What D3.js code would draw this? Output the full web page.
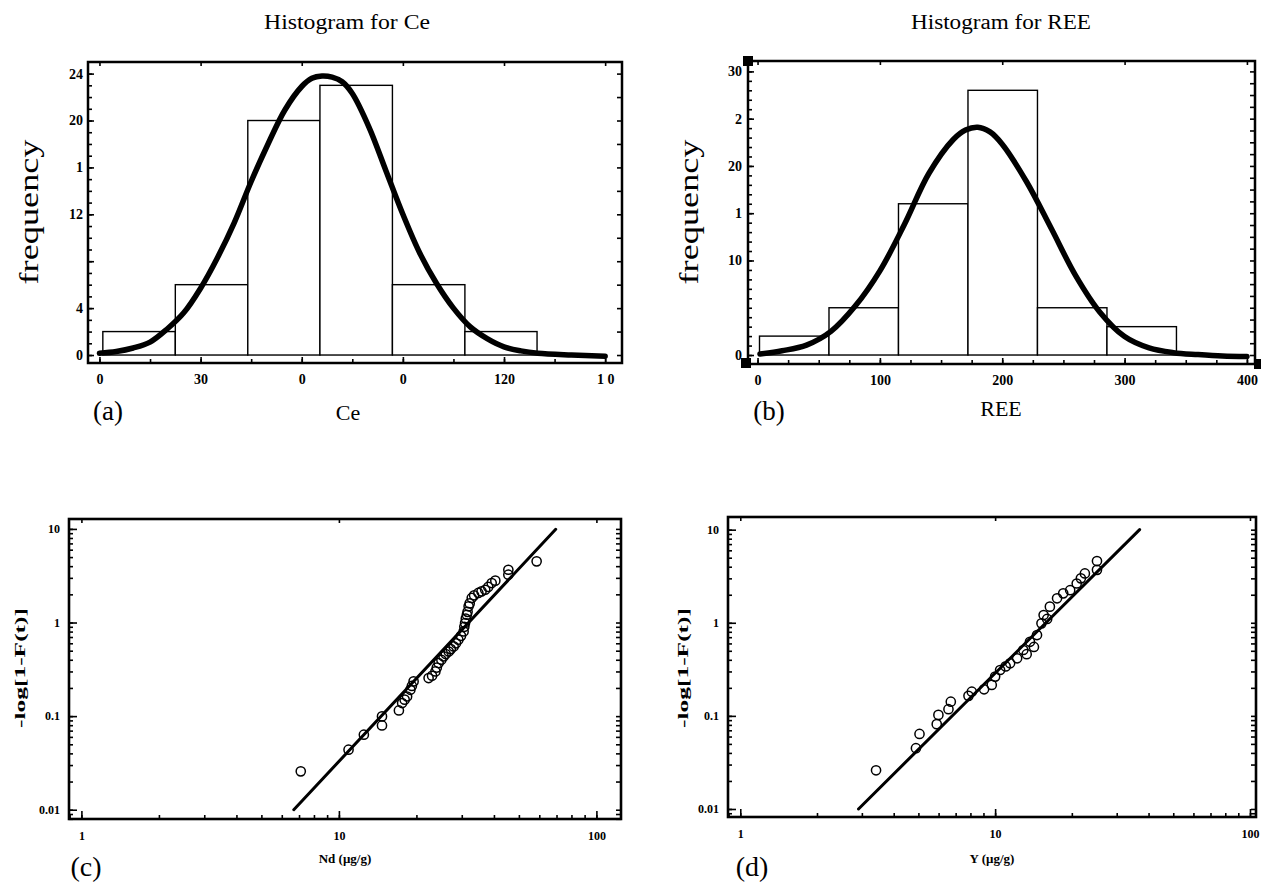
<!DOCTYPE html>
<html><head><meta charset="utf-8">
<script src="https://cdn.jsdelivr.net/npm/d3@7"></script>
<style>
body{margin:0;background:#fff;}
svg{display:block;}
text{font-family:"Liberation Serif","Times New Roman",serif;fill:#000;}
</style></head><body>
<svg id="chart" width="1261" height="889"></svg>
<script>
// ---------- DATA ----------
// (a) Histogram for Ce
const ceBinEdges = [1.0, 22.5, 44.0, 65.4, 86.9, 108.4, 129.8];
const ceCounts = [2, 6, 20, 23, 6, 2];
const ceCurveX = [0, 5, 10, 15, 20, 25, 30, 35, 40, 45, 50, 55, 60, 63, 66, 69, 72, 75, 80, 85, 90, 95, 100, 105, 110, 115, 120, 125, 130, 140, 150];
const ceCurveY = [0.15, 0.3, 0.6, 1.1, 2.2, 3.6, 5.7, 8.3, 11.3, 14.8, 18.0, 20.9, 22.9, 23.6, 23.8, 23.7, 23.3, 22.3, 19.4, 15.7, 12.0, 8.7, 6.1, 4.0, 2.4, 1.4, 0.7, 0.35, 0.15, 0.0, -0.1];
const ceXTicks = [0, 30, 60, 90, 120, 150];
const ceXTickLabels = ["0", "30", "0", "0", "120", "1 0"];
const ceYTicks = [0, 4, 8, 12, 16, 20, 24];
const ceYTickLabels = ["0", "4", "", "12", "1", "20", "24"];

// (b) Histogram for REE
const reeBinEdges = [1.6, 58.4, 115.2, 172.0, 228.8, 285.6, 342.4];
const reeCounts = [2, 5, 16, 28, 5, 3];
const reeCurveX = [2, 20, 40, 60, 80, 100, 120, 140, 160, 170, 180, 190, 200, 220, 240, 260, 280, 300, 320, 340, 360, 380, 400];
const reeCurveY = [0.1, 0.45, 1.05, 2.5, 5.2, 8.9, 13.8, 19.2, 22.8, 23.8, 24.1, 23.6, 22.3, 18.3, 13.4, 8.4, 4.5, 1.95, 0.75, 0.25, 0.05, -0.1, -0.15];
const reeXTicks = [0, 100, 200, 300, 400];
const reeXTickLabels = ["0", "100", "200", "300", "400"];
const reeYTicks = [0, 10, 15, 20, 25, 30];
const reeYTickLabels = ["0", "10", "1", "20", "2", "30"];

// (c) Weibull plot for Nd
const ndX = [7.11, 10.9, 12.5, 14.7, 14.7, 17.1, 17.6, 18.0, 18.4, 18.95, 19.2, 19.5, 22.3, 23.0, 23.7, 24.0, 24.4, 25.0, 25.5, 26.0, 26.7, 27.2, 27.9, 28.5, 29.1, 29.8, 30.5, 30.7, 30.9, 31.1, 31.4, 31.6, 31.9, 32.2, 32.8, 33.5, 34.8, 35.8, 37.0, 38.0, 39.2, 40.5, 45.5, 45.5, 58.6];
const ndY = [0.0257, 0.0438, 0.0633, 0.0795, 0.0993, 0.115, 0.138, 0.15, 0.162, 0.191, 0.21, 0.235, 0.255, 0.27, 0.30, 0.33, 0.369, 0.40, 0.434, 0.46, 0.49, 0.52, 0.556, 0.60, 0.655, 0.72, 0.803, 0.9, 0.988, 1.1, 1.21, 1.3, 1.49, 1.6, 1.83, 1.95, 2.07, 2.15, 2.24, 2.4, 2.64, 2.8, 3.24, 3.66, 4.5];
const ndLineX = [6.68, 69.5];
const ndLineY = [0.01, 9.9];

// (d) Weibull plot for Y
const yX = [3.41, 4.89, 5.05, 5.9, 5.99, 6.56, 6.7, 7.86, 8.1, 9.05, 9.7, 10.0, 10.46, 11.0, 11.45, 12.2, 12.9, 13.3, 13.7, 14.2, 14.6, 15.2, 15.5, 16.0, 16.4, 17.5, 18.5, 19.7, 20.9, 21.7, 22.5, 25.1, 25.1];
const yY = [0.026, 0.045, 0.064, 0.0815, 0.1025, 0.118, 0.142, 0.164, 0.182, 0.193, 0.215, 0.264, 0.311, 0.34, 0.367, 0.415, 0.51, 0.46, 0.625, 0.55, 0.738, 0.986, 1.21, 1.1, 1.49, 1.83, 2.07, 2.24, 2.64, 3.0, 3.39, 3.7, 4.6];
const yLineX = [2.91, 36.9];
const yLineY = [0.01, 10.0];

const logYTicks = [0.01, 0.1, 1, 10];
const logYTickLabels = ["0.01", "0.1", "1", "10"];
const logXTicks = [1, 10, 100];
const logXTickLabels = ["1", "10", "100"];

// ---------- LAYOUT ----------
const svg = d3.select("#chart");
const boxA = {left: 88, top: 62, right: 622, bottom: 363};
const boxB = {left: 748, top: 61, right: 1255, bottom: 364};
const boxC = {left: 69, top: 519, right: 621, bottom: 819};
const boxD = {left: 728, top: 517, right: 1256, bottom: 817};

function fmtFrom(values, labels) {
  return v => { const i = values.indexOf(v); return i >= 0 ? labels[i] : ""; };
}

function drawAxes(box, x, y, opt) {
  const g = svg.append("g");
  // minor ticks
  const minorLeft = g.append("g").attr("transform", `translate(${box.left},0)`)
    .call(d3.axisLeft(y).tickValues(opt.yMinor).tickSize(-opt.minorLen).tickFormat(""));
  const minorBottom = g.append("g").attr("transform", `translate(0,${box.bottom})`)
    .call(d3.axisBottom(x).tickValues(opt.xMinor).tickSize(-opt.minorLen).tickFormat(""));
  const right = g.append("g").attr("transform", `translate(${box.right},0)`)
    .call(d3.axisRight(y).tickValues(opt.yRight).tickSize(-opt.minorLen - 1).tickFormat(""));
  const top = g.append("g").attr("transform", `translate(0,${box.top})`)
    .call(d3.axisTop(x).tickValues(opt.xTop).tickSize(-opt.minorLen).tickFormat(""));
  // major ticks with labels
  const left = g.append("g").attr("transform", `translate(${box.left},0)`)
    .call(d3.axisLeft(y).tickValues(opt.yTicks).tickSize(-opt.majorLen).tickPadding(opt.yPad)
      .tickFormat(fmtFrom(opt.yTicks, opt.yLabels)));
  const bottom = g.append("g").attr("transform", `translate(0,${box.bottom})`)
    .call(d3.axisBottom(x).tickValues(opt.xTicks).tickSize(-opt.majorLen).tickPadding(opt.xPad)
      .tickFormat(fmtFrom(opt.xTicks, opt.xLabels)));
  [minorLeft, minorBottom, right, top, left, bottom].forEach(a => {
    a.select(".domain").remove();
    a.selectAll("line").attr("stroke", "#000").attr("stroke-width", 1.6);
  });
  [left, bottom].forEach(a => a.selectAll("text")
    .attr("font-family", '"Liberation Serif", serif')
    .attr("font-weight", "bold")
    .attr("font-size", opt.fontSize)
    .attr("fill", "#000"));
  // frame
  g.append("rect").attr("x", box.left).attr("y", box.top)
    .attr("width", box.right - box.left).attr("height", box.bottom - box.top)
    .attr("fill", "none").attr("stroke", "#000").attr("stroke-width", opt.frameW);
}

function addText(x, y, str, size, opts = {}) {
  const t = svg.append("text").attr("x", x).attr("y", y)
    .attr("font-size", size).attr("text-anchor", "middle").text(str);
  if (opts.bold) t.attr("font-weight", "bold");
  if (opts.rotate) t.attr("transform", `rotate(-90,${x},${y})`);
  if (opts.len) t.attr("textLength", opts.len).attr("lengthAdjust", "spacingAndGlyphs");
  return t;
}

// ---------- (a) ----------
{
  const x = d3.scaleLinear().domain([-3.4, 155.0]).range([boxA.left, boxA.right]);
  const y = d3.scaleLinear().domain([-0.68, 24.99]).range([boxA.bottom, boxA.top]);
  svg.append("g").selectAll("rect").data(ceCounts).join("rect")
    .attr("x", (d, i) => x(ceBinEdges[i]))
    .attr("width", (d, i) => x(ceBinEdges[i + 1]) - x(ceBinEdges[i]))
    .attr("y", d => y(d)).attr("height", d => y(0) - y(d))
    .attr("fill", "#fff").attr("stroke", "#000").attr("stroke-width", 1.4);
  const pts = ceCurveX.map((v, i) => [v, ceCurveY[i]]);
  svg.append("path").datum(pts)
    .attr("d", d3.line().x(d => x(d[0])).y(d => y(d[1])).curve(d3.curveCatmullRom))
    .attr("fill", "none").attr("stroke", "#000").attr("stroke-width", 5.5).attr("stroke-linecap", "round");
  drawAxes(boxA, x, y, {
    yTicks: ceYTicks, yLabels: ceYTickLabels, xTicks: ceXTicks, xLabels: ceXTickLabels,
    yMinor: d3.range(0, 25, 1), xMinor: d3.range(0, 151, 15), yRight: d3.range(0, 25, 2), xTop: d3.range(0, 151, 30),
    majorLen: 6, minorLen: 4, yPad: 5, xPad: 11, fontSize: 14, frameW: 2.5
  });
  addText(347, 29, "Histogram for Ce", 20, {len: 166});
  addText(38, 212, "frequency", 27, {rotate: true, len: 145});
  addText(348, 420, "Ce", 22);
  addText(108, 420, "(a)", 27);
}

// ---------- (b) ----------
{
  const x = d3.scaleLinear().domain([-7.8, 406.6]).range([boxB.left, boxB.right]);
  const y = d3.scaleLinear().domain([-0.95, 31.1]).range([boxB.bottom, boxB.top]);
  svg.append("g").selectAll("rect").data(reeCounts).join("rect")
    .attr("x", (d, i) => x(reeBinEdges[i]))
    .attr("width", (d, i) => x(reeBinEdges[i + 1]) - x(reeBinEdges[i]))
    .attr("y", d => y(d)).attr("height", d => y(0) - y(d))
    .attr("fill", "#fff").attr("stroke", "#000").attr("stroke-width", 1.4);
  const pts = reeCurveX.map((v, i) => [v, reeCurveY[i]]);
  svg.append("path").datum(pts)
    .attr("d", d3.line().x(d => x(d[0])).y(d => y(d[1])).curve(d3.curveCatmullRom))
    .attr("fill", "none").attr("stroke", "#000").attr("stroke-width", 5.5).attr("stroke-linecap", "round");
  drawAxes(boxB, x, y, {
    yTicks: reeYTicks, yLabels: reeYTickLabels, xTicks: reeXTicks, xLabels: reeXTickLabels,
    yMinor: d3.range(0, 31, 1), xMinor: d3.range(0, 401, 25), yRight: d3.range(0, 31, 1.25), xTop: d3.range(0, 401, 100),
    majorLen: 6, minorLen: 4, yPad: 6, xPad: 11, fontSize: 14, frameW: 2.5
  });
  // corner markers
  [[boxB.left, boxB.top], [boxB.left - 2, boxB.bottom - 1], [boxB.right + 4, boxB.bottom]].forEach(c => {
    svg.append("rect").attr("x", c[0] - 5).attr("y", c[1] - 5).attr("width", 10).attr("height", 10).attr("fill", "#000");
  });
  addText(1001, 29, "Histogram for REE", 20, {len: 180});
  addText(698, 212, "frequency", 27, {rotate: true, len: 145});
  addText(1001, 416, "REE", 22);
  addText(769, 420, "(b)", 27);
}

function weibull(box, xDom, yDom, px, py, lx, ly, xTitle, tag, yTitleX, tagX) {
  const x = d3.scaleLog().domain(xDom).range([box.left, box.right]);
  const y = d3.scaleLog().domain(yDom).range([box.bottom, box.top]);
  const minorX = x.ticks().filter(v => v >= xDom[0] && v <= xDom[1]);
  const minorY = y.ticks().filter(v => v >= yDom[0] && v <= yDom[1]);
  svg.append("path").datum(lx.map((v, i) => [v, ly[i]]))
    .attr("d", d3.line().x(d => x(d[0])).y(d => y(d[1])))
    .attr("stroke", "#000").attr("stroke-width", 3).attr("stroke-linecap", "round").attr("fill", "none");
  svg.append("g").selectAll("circle").data(px.map((v, i) => [v, py[i]])).join("circle")
    .attr("cx", d => x(d[0])).attr("cy", d => y(d[1])).attr("r", 4.6)
    .attr("fill", "none").attr("stroke", "#000").attr("stroke-width", 1.5);
  drawAxes(box, x, y, {
    yTicks: logYTicks, yLabels: logYTickLabels, xTicks: logXTicks, xLabels: logXTickLabels,
    yMinor: minorY, xMinor: minorX, yRight: minorY, xTop: logXTicks,
    majorLen: 8, minorLen: 4, yPad: 9, xPad: 12, fontSize: 12, frameW: 2.6
  });
  addText((box.left + box.right) / 2, 863, xTitle, 13, {bold: true});
  addText(yTitleX, 668, "-log[1-F(t)]", 14, {bold: true, rotate: true, len: 120});
  addText(tagX, 876, tag, 28);
}

weibull(boxC, [0.895, 124.6], [0.00796, 12.76], ndX, ndY, ndLineX, ndLineY, "Nd (μg/g)", "(c)", 25, 86);
weibull(boxD, [0.895, 105.6], [0.0082, 13.68], yX, yY, yLineX, yLineY, "Y (μg/g)", "(d)", 688, 752);
</script>
</body></html>
